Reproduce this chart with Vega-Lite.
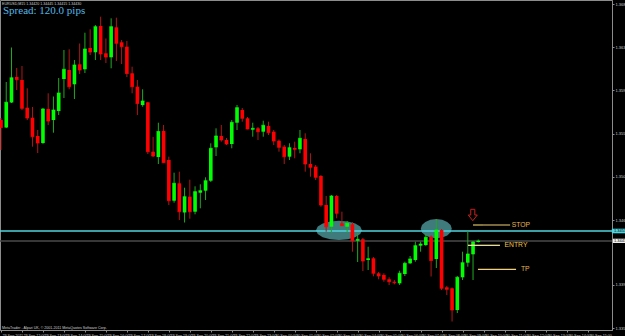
{
  "$schema": "https://vega.github.io/schema/vega-lite/v6.json",
  "width": 612,
  "height": 330,
  "autosize": {"type": "none"},
  "padding": {"left": 0, "top": 0, "right": 13, "bottom": 6},
  "background": "#000000",
  "config": {"view": {"stroke": "#8c8c8c", "fill": "#000000"}, "axis": {"grid": false}, "axisY": {"labelOverlap": false, "labelFontSize": 4, "labelColor": "#c8c8c8", "labelPadding": 1, "tickSize": 2, "tickColor": "#8c8c8c", "domainColor": "#8c8c8c"}, "scale": {"continuousPadding": 0}},
  "datasets": {
    "bars": [
      {"t":"2011-09-29T11:00:00Z","o":1.3564,"h":1.3566,"l":1.3534,"c":1.35565},
      {"t":"2011-09-29T11:15:00Z","o":1.35565,"h":1.3602,"l":1.3556,"c":1.35817},
      {"t":"2011-09-29T11:30:00Z","o":1.35815,"h":1.36365,"l":1.3581,"c":1.36063},
      {"t":"2011-09-29T11:45:00Z","o":1.3607,"h":1.3616,"l":1.3594,"c":1.36043},
      {"t":"2011-09-29T12:00:00Z","o":1.3604,"h":1.3618,"l":1.3574,"c":1.35757},
      {"t":"2011-09-29T12:15:00Z","o":1.35763,"h":1.35957,"l":1.3564,"c":1.3566},
      {"t":"2011-09-29T12:30:00Z","o":1.35663,"h":1.3577,"l":1.35373,"c":1.35473},
      {"t":"2011-09-29T12:45:00Z","o":1.3548,"h":1.3554,"l":1.3531,"c":1.3541},
      {"t":"2011-09-29T13:00:00Z","o":1.3541,"h":1.3576,"l":1.354,"c":1.3575},
      {"t":"2011-09-29T13:15:00Z","o":1.3575,"h":1.35907,"l":1.3559,"c":1.3563},
      {"t":"2011-09-29T13:30:00Z","o":1.3564,"h":1.35875,"l":1.35513,"c":1.3574},
      {"t":"2011-09-29T13:45:00Z","o":1.3573,"h":1.3606,"l":1.3569,"c":1.3591},
      {"t":"2011-09-29T14:00:00Z","o":1.3605,"h":1.3634,"l":1.3586,"c":1.36147},
      {"t":"2011-09-29T14:15:00Z","o":1.3614,"h":1.36347,"l":1.35947,"c":1.35973},
      {"t":"2011-09-29T14:30:00Z","o":1.35997,"h":1.3624,"l":1.3585,"c":1.3619},
      {"t":"2011-09-29T14:45:00Z","o":1.36197,"h":1.36405,"l":1.361,"c":1.3614},
      {"t":"2011-09-29T15:00:00Z","o":1.36147,"h":1.36513,"l":1.3611,"c":1.3635},
      {"t":"2011-09-29T15:15:00Z","o":1.3636,"h":1.36547,"l":1.3629,"c":1.3632},
      {"t":"2011-09-29T15:30:00Z","o":1.36317,"h":1.3659,"l":1.3624,"c":1.36573},
      {"t":"2011-09-29T15:45:00Z","o":1.3658,"h":1.36673,"l":1.3624,"c":1.363},
      {"t":"2011-09-29T16:00:00Z","o":1.36307,"h":1.36455,"l":1.3621,"c":1.3627},
      {"t":"2011-09-29T16:15:00Z","o":1.36267,"h":1.36657,"l":1.36157,"c":1.36573},
      {"t":"2011-09-29T16:30:00Z","o":1.36567,"h":1.36663,"l":1.3623,"c":1.36407},
      {"t":"2011-09-29T16:45:00Z","o":1.36417,"h":1.3644,"l":1.362,"c":1.36373},
      {"t":"2011-09-29T17:00:00Z","o":1.36373,"h":1.3643,"l":1.3607,"c":1.36105},
      {"t":"2011-09-29T17:15:00Z","o":1.36107,"h":1.36173,"l":1.35907,"c":1.35973},
      {"t":"2011-09-29T17:30:00Z","o":1.35973,"h":1.3604,"l":1.3569,"c":1.35805},
      {"t":"2011-09-29T17:45:00Z","o":1.3579,"h":1.35947,"l":1.35773,"c":1.3583},
      {"t":"2011-09-29T18:00:00Z","o":1.35817,"h":1.3582,"l":1.353,"c":1.35323},
      {"t":"2011-09-29T18:15:00Z","o":1.35323,"h":1.3547,"l":1.3527,"c":1.3528},
      {"t":"2011-09-29T18:30:00Z","o":1.3527,"h":1.35613,"l":1.352,"c":1.35525},
      {"t":"2011-09-29T18:45:00Z","o":1.3553,"h":1.3559,"l":1.3521,"c":1.35213},
      {"t":"2011-09-29T19:00:00Z","o":1.3524,"h":1.35273,"l":1.3479,"c":1.34833},
      {"t":"2011-09-29T19:15:00Z","o":1.34833,"h":1.35113,"l":1.34813,"c":1.35007},
      {"t":"2011-09-29T19:30:00Z","o":1.35007,"h":1.35123,"l":1.3464,"c":1.34723},
      {"t":"2011-09-29T19:45:00Z","o":1.34715,"h":1.34963,"l":1.34615,"c":1.34873},
      {"t":"2011-09-29T20:00:00Z","o":1.34873,"h":1.35043,"l":1.34653,"c":1.34723},
      {"t":"2011-09-29T20:15:00Z","o":1.34723,"h":1.34977,"l":1.34697,"c":1.34923},
      {"t":"2011-09-29T20:30:00Z","o":1.34913,"h":1.34997,"l":1.34757,"c":1.34933},
      {"t":"2011-09-29T20:45:00Z","o":1.34933,"h":1.35067,"l":1.3484,"c":1.35033},
      {"t":"2011-09-29T21:00:00Z","o":1.35033,"h":1.35407,"l":1.3502,"c":1.35357},
      {"t":"2011-09-29T21:15:00Z","o":1.35367,"h":1.35557,"l":1.3528,"c":1.3548},
      {"t":"2011-09-29T21:30:00Z","o":1.3548,"h":1.3559,"l":1.35423,"c":1.3544},
      {"t":"2011-09-29T21:45:00Z","o":1.3544,"h":1.3546,"l":1.3539,"c":1.354},
      {"t":"2011-09-29T22:00:00Z","o":1.354,"h":1.3564,"l":1.35357,"c":1.35617},
      {"t":"2011-09-29T22:15:00Z","o":1.35613,"h":1.3579,"l":1.3554,"c":1.35763},
      {"t":"2011-09-29T22:30:00Z","o":1.3574,"h":1.3576,"l":1.35623,"c":1.35657},
      {"t":"2011-09-29T22:45:00Z","o":1.35657,"h":1.3567,"l":1.35547,"c":1.3555},
      {"t":"2011-09-29T23:00:00Z","o":1.35543,"h":1.35613,"l":1.35473,"c":1.35557},
      {"t":"2011-09-29T23:15:00Z","o":1.35557,"h":1.3557,"l":1.3544,"c":1.35523},
      {"t":"2011-09-29T23:30:00Z","o":1.35523,"h":1.35633,"l":1.35473,"c":1.35587},
      {"t":"2011-09-29T23:45:00Z","o":1.3558,"h":1.35623,"l":1.3549,"c":1.35513},
      {"t":"2011-09-30T00:00:00Z","o":1.35523,"h":1.3554,"l":1.3539,"c":1.3543},
      {"t":"2011-09-30T00:15:00Z","o":1.35433,"h":1.35445,"l":1.35323,"c":1.35367},
      {"t":"2011-09-30T00:30:00Z","o":1.35373,"h":1.3539,"l":1.352,"c":1.35273},
      {"t":"2011-09-30T00:45:00Z","o":1.35273,"h":1.35407,"l":1.3524,"c":1.35363},
      {"t":"2011-09-30T01:00:00Z","o":1.3536,"h":1.35423,"l":1.35257,"c":1.35347},
      {"t":"2011-09-30T01:15:00Z","o":1.35347,"h":1.3554,"l":1.35307,"c":1.35457},
      {"t":"2011-09-30T01:30:00Z","o":1.3545,"h":1.35507,"l":1.35123,"c":1.352},
      {"t":"2011-09-30T01:45:00Z","o":1.352,"h":1.35307,"l":1.35073,"c":1.35167},
      {"t":"2011-09-30T02:00:00Z","o":1.35173,"h":1.3519,"l":1.3504,"c":1.35067},
      {"t":"2011-09-30T02:15:00Z","o":1.3508,"h":1.3509,"l":1.34773,"c":1.3479},
      {"t":"2011-09-30T02:30:00Z","o":1.3479,"h":1.3488,"l":1.34523,"c":1.34573},
      {"t":"2011-09-30T02:45:00Z","o":1.34573,"h":1.3489,"l":1.34513,"c":1.3488},
      {"t":"2011-09-30T03:00:00Z","o":1.3488,"h":1.3489,"l":1.34657,"c":1.34707},
      {"t":"2011-09-30T03:15:00Z","o":1.34607,"h":1.34723,"l":1.3458,"c":1.34583},
      {"t":"2011-09-30T03:30:00Z","o":1.34573,"h":1.3463,"l":1.34513,"c":1.34607},
      {"t":"2011-09-30T03:45:00Z","o":1.34597,"h":1.3462,"l":1.34323,"c":1.34433},
      {"t":"2011-09-30T04:00:00Z","o":1.34433,"h":1.3451,"l":1.3422,"c":1.34447},
      {"t":"2011-09-30T04:15:00Z","o":1.34447,"h":1.3446,"l":1.3413,"c":1.3423},
      {"t":"2011-09-30T04:30:00Z","o":1.3424,"h":1.34373,"l":1.3414,"c":1.34253},
      {"t":"2011-09-30T04:45:00Z","o":1.34257,"h":1.3427,"l":1.34077,"c":1.34107},
      {"t":"2011-09-30T05:00:00Z","o":1.34107,"h":1.3412,"l":1.34047,"c":1.3408},
      {"t":"2011-09-30T05:15:00Z","o":1.3409,"h":1.34107,"l":1.34023,"c":1.34047},
      {"t":"2011-09-30T05:30:00Z","o":1.34047,"h":1.34067,"l":1.3399,"c":1.34023},
      {"t":"2011-09-30T05:45:00Z","o":1.34023,"h":1.3404,"l":1.33997,"c":1.34013},
      {"t":"2011-09-30T06:00:00Z","o":1.34007,"h":1.34133,"l":1.3399,"c":1.34107},
      {"t":"2011-09-30T06:15:00Z","o":1.341,"h":1.34223,"l":1.3408,"c":1.34207},
      {"t":"2011-09-30T06:30:00Z","o":1.34207,"h":1.3428,"l":1.342,"c":1.3425},
      {"t":"2011-09-30T06:45:00Z","o":1.3424,"h":1.34423,"l":1.34223,"c":1.34383},
      {"t":"2011-09-30T07:00:00Z","o":1.34383,"h":1.34423,"l":1.34323,"c":1.344},
      {"t":"2011-09-30T07:15:00Z","o":1.3439,"h":1.345,"l":1.3438,"c":1.34467},
      {"t":"2011-09-30T07:30:00Z","o":1.34473,"h":1.34485,"l":1.34075,"c":1.34235},
      {"t":"2011-09-30T07:45:00Z","o":1.3425,"h":1.3465,"l":1.3416,"c":1.3454},
      {"t":"2011-09-30T08:00:00Z","o":1.3454,"h":1.3455,"l":1.3394,"c":1.33957},
      {"t":"2011-09-30T08:15:00Z","o":1.33967,"h":1.3398,"l":1.3389,"c":1.33947},
      {"t":"2011-09-30T08:30:00Z","o":1.33957,"h":1.33965,"l":1.33625,"c":1.3374},
      {"t":"2011-09-30T08:45:00Z","o":1.3374,"h":1.3408,"l":1.3371,"c":1.34067},
      {"t":"2011-09-30T09:00:00Z","o":1.34067,"h":1.34323,"l":1.3404,"c":1.34213},
      {"t":"2011-09-30T09:15:00Z","o":1.34213,"h":1.3453,"l":1.34173,"c":1.343},
      {"t":"2011-09-30T09:30:00Z","o":1.34297,"h":1.3443,"l":1.3404,"c":1.3442},
      {"t":"2011-09-30T09:45:00Z","o":1.3442,"h":1.34445,"l":1.34415,"c":1.3443}
    ],
    "levels": [
      {"kind": "line", "t": "2011-09-29T10:57:09Z", "t2": "2011-09-30T16:07:24Z", "price": 1.3453},
      {"kind": "bid", "t": "2011-09-29T10:57:09Z", "t2": "2011-09-30T16:07:24Z", "price": 1.3443}
    ],
    "segments": [
      {"kind": "stop", "t": "2011-09-30T09:30:00Z", "t2": "2011-09-30T11:16:00Z", "price": 1.3459},
      {"kind": "stopdark", "t": "2011-09-30T09:30:00Z", "t2": "2011-09-30T09:58:00Z", "price": 1.3459},
      {"kind": "entry", "t": "2011-09-30T09:15:36Z", "t2": "2011-09-30T10:47:00Z", "price": 1.34387},
      {"kind": "tp", "t": "2011-09-30T09:44:00Z", "t2": "2011-09-30T11:33:00Z", "price": 1.34147}
    ],
    "notes": [
      {"kind": "stop", "t": "2011-09-30T11:20:30Z", "price": 1.3459, "label": "STOP"},
      {"kind": "entry", "t": "2011-09-30T11:00:00Z", "price": 1.34387, "label": "ENTRY"},
      {"kind": "tp", "t": "2011-09-30T11:47:00Z", "price": 1.34147, "label": "TP"}
    ],
    "tags": [
      {"kind": "line", "t": "2011-09-30T16:07:00Z", "t2": "2011-09-30T16:50:00Z", "price": 1.34553, "price2": 1.34507},
      {"kind": "bid", "t": "2011-09-30T16:10:00Z", "t2": "2011-09-30T16:50:00Z", "price": 1.34453, "price2": 1.3441}
    ],
    "tagtext": [
      {"t": "2011-09-30T16:13:00Z", "price": 1.3453, "label": "1.34530"},
      {"t": "2011-09-30T16:13:00Z", "price": 1.34431, "label": "1.34430"}
    ]
  },
  "encoding": {
    "x": {"field": "t", "type": "temporal", "scale": {"type": "utc", "nice": false, "padding": 0, "domain": [1317293829000, 1317398844000]},
      "axis": {"values": [1317294000000, 1317297600000, 1317301200000, 1317304800000, 1317308400000, 1317312000000, 1317315600000, 1317319200000, 1317322800000, 1317326400000, 1317330000000, 1317333600000, 1317337200000, 1317340800000, 1317344400000, 1317348000000, 1317351600000, 1317355200000, 1317358800000, 1317362400000, 1317366000000, 1317369600000, 1317373200000, 1317376800000, 1317380400000, 1317384000000, 1317387600000, 1317391200000, 1317394800000],
        "format": "%d %b %H:%M", "labelExpr": "datum.label == '29 Sep 11:00' ? '29 Sep 2011' : datum.label", "labelAlign": "left", "labelBaseline": "top", "labelPadding": 1, "labelOffset": 1, "labelFontSize": 3.7, "labelFont": "Liberation Sans", "labelColor": "#c8c8c8", "labelOverlap": false, "labelFlush": false, "labelBound": false, "tickSize": 2, "tickColor": "#8c8c8c", "domainColor": "#8c8c8c", "title": null, "grid": false}}
  },
  "resolve": {"scale": {"color": "independent"}},
  "layer": [
    {
      "data": {"values": [{"t": "2011-09-30T03:06:36Z", "price": 1.34537}]},
      "mark": {"type": "point", "shape": "M1,0L0.924,0.161L0.707,0.297L0.383,0.388L0,0.42L-0.383,0.388L-0.707,0.297L-0.924,0.161L-1,0L-0.924,-0.161L-0.707,-0.297L-0.383,-0.388L0,-0.42L0.383,-0.388L0.707,-0.297L0.924,-0.161Z", "size": 2116, "filled": true, "color": "#4a8f93", "opacity": 0.85, "strokeWidth": 0},
      "encoding": {
        "y": {"field": "price", "type": "quantitative", "scale": {"domain": [1.3354, 1.3684], "nice": false, "zero": false},
          "axis": {"orient": "right", "values": [1.368, 1.36692, 1.36584, 1.36476, 1.36368, 1.3626, 1.36152, 1.36044, 1.35936, 1.35828, 1.3572, 1.35612, 1.35504, 1.35396, 1.35288, 1.3518, 1.35072, 1.34964, 1.34856, 1.34748, 1.3464, 1.34316, 1.34208, 1.341, 1.33992, 1.33884, 1.33776, 1.33668, 1.3356], "format": ".5f", "labelFontSize": 4, "labelFont": "Liberation Sans", "labelColor": "#c8c8c8", "labelPadding": 1, "tickSize": 2, "tickColor": "#8c8c8c", "domainColor": "#8c8c8c", "title": null, "labelOverlap": false, "labelFlush": false, "labelBound": false, "grid": false}}
      }
    },
    {
      "data": {"values": [{"t": "2011-09-30T07:44:54Z", "price": 1.34553}]},
      "mark": {"type": "point", "shape": "M1,0L0.924,0.237L0.707,0.438L0.383,0.573L0,0.62L-0.383,0.573L-0.707,0.438L-0.924,0.237L-1,0L-0.924,-0.237L-0.707,-0.438L-0.383,-0.573L0,-0.62L0.383,-0.573L0.707,-0.438L0.924,-0.237Z", "size": 961, "filled": true, "color": "#4a8f93", "opacity": 0.85, "strokeWidth": 0},
      "encoding": {
        "y": {"field": "price", "type": "quantitative", "scale": {"domain": [1.3354, 1.3684], "nice": false, "zero": false}}
      }
    },
    {
      "data": {"name": "levels"},
      "mark": {"type": "rule", "strokeWidth": 1.3},
      "encoding": {
        "x2": {"field": "t2"},
        "y": {"field": "price", "type": "quantitative", "scale": {"domain": [1.3354, 1.3684], "nice": false, "zero": false}},
        "color": {"field": "kind", "type": "nominal", "scale": {"domain": ["line", "bid"], "range": ["#4fd4e0", "#4a4a4a"]}, "legend": null}
      }
    },
    {
      "data": {"name": "bars"},
      "mark": {"type": "rule", "strokeWidth": 1},
      "encoding": {
        "y": {"field": "l", "type": "quantitative", "scale": {"domain": [1.3354, 1.3684], "nice": false, "zero": false}},
        "y2": {"field": "h"},
        "color": {"condition": {"test": "datum.c >= datum.o", "value": "#22aa22"}, "value": "#b01818"}
      }
    },
    {
      "data": {"name": "bars"},
      "mark": {"type": "bar", "width": 3.6},
      "encoding": {
        "y": {"field": "o", "type": "quantitative", "scale": {"domain": [1.3354, 1.3684], "nice": false, "zero": false}},
        "y2": {"field": "c"},
        "color": {"condition": {"test": "datum.c >= datum.o", "value": "#00ff00"}, "value": "#ff0000"}
      }
    },
    {
      "data": {"name": "bars"},
      "mark": {"type": "tick", "orient": "horizontal", "size": 3.6, "thickness": 1},
      "encoding": {
        "y": {"field": "c", "type": "quantitative", "scale": {"domain": [1.3354, 1.3684], "nice": false, "zero": false}},
        "color": {"condition": {"test": "datum.c >= datum.o", "value": "#00ff00"}, "value": "#ff0000"}
      }
    },
    {
      "data": {"name": "segments"},
      "mark": {"type": "rule", "strokeWidth": 1.2},
      "encoding": {
        "x2": {"field": "t2"},
        "y": {"field": "price", "type": "quantitative", "scale": {"domain": [1.3354, 1.3684], "nice": false, "zero": false}},
        "color": {"field": "kind", "type": "nominal", "scale": {"domain": ["stop", "stopdark", "entry", "tp"], "range": ["#f0d078", "#8a7a3a", "#fff3a8", "#f0d078"]}, "legend": null}
      }
    },
    {
      "data": {"name": "notes"},
      "mark": {"type": "text", "align": "left", "baseline": "middle", "fontSize": 6.8, "font": "Liberation Sans"},
      "encoding": {
        "y": {"field": "price", "type": "quantitative", "scale": {"domain": [1.3354, 1.3684], "nice": false, "zero": false}},
        "text": {"field": "label"},
        "color": {"field": "kind", "type": "nominal", "scale": {"domain": ["stop", "entry", "tp"], "range": ["#e6b450", "#f2c44a", "#e6b450"]}, "legend": null}
      }
    },
    {
      "data": {"values": [{"t": "2011-09-30T09:29:18Z", "price": 1.3469}]},
      "mark": {"type": "point", "shape": "M-0.45,-1.27L0.45,-1.27L0.45,0L1,0L0,1.27L-1,0L-0.45,0Z", "size": 81, "filled": false, "color": "#c82020", "strokeWidth": 1, "opacity": 1},
      "encoding": {
        "y": {"field": "price", "type": "quantitative", "scale": {"domain": [1.3354, 1.3684], "nice": false, "zero": false}}
      }
    },
    {
      "data": {"values": [{"t": "2011-09-29T11:05:40Z", "price": 1.3670, "label": "Spread: 120.0 pips"}]},
      "mark": {"type": "text", "align": "left", "baseline": "alphabetic", "fontSize": 11, "font": "Liberation Serif", "color": "#52b8e8"},
      "encoding": {
        "y": {"field": "price", "type": "quantitative", "scale": {"domain": [1.3354, 1.3684], "nice": false, "zero": false}},
        "text": {"field": "label"}
      }
    },
    {
      "data": {"values": [
        {"t": "2011-09-29T11:03:00Z", "price": 1.36795, "label": "EURUSD,M15  1.34420 1.34445 1.34415 1.34430"},
        {"t": "2011-09-29T11:03:00Z", "price": 1.3355, "label": "MetaTrader - Alpari UK, © 2001-2011 MetaQuotes Software Corp."}
      ]},
      "mark": {"type": "text", "align": "left", "baseline": "alphabetic", "fontSize": 3.6, "font": "Liberation Sans", "color": "#d0d0d0"},
      "encoding": {
        "y": {"field": "price", "type": "quantitative", "scale": {"domain": [1.3354, 1.3684], "nice": false, "zero": false}},
        "text": {"field": "label"}
      }
    },
    {
      "data": {"name": "tags"},
      "mark": {"type": "rect", "clip": false},
      "encoding": {
        "x2": {"field": "t2"},
        "y": {"field": "price", "type": "quantitative", "scale": {"domain": [1.3354, 1.3684], "nice": false, "zero": false}},
        "y2": {"field": "price2"},
        "color": {"field": "kind", "type": "nominal", "scale": {"domain": ["line", "bid"], "range": ["#4fd4e0", "#f0f0f0"]}, "legend": null}
      }
    },
    {
      "data": {"name": "tagtext"},
      "mark": {"type": "text", "clip": false, "align": "left", "baseline": "middle", "fontSize": 4, "font": "Liberation Sans", "color": "#000000"},
      "encoding": {
        "y": {"field": "price", "type": "quantitative", "scale": {"domain": [1.3354, 1.3684], "nice": false, "zero": false}},
        "text": {"field": "label"}
      }
    }
  ]
}
